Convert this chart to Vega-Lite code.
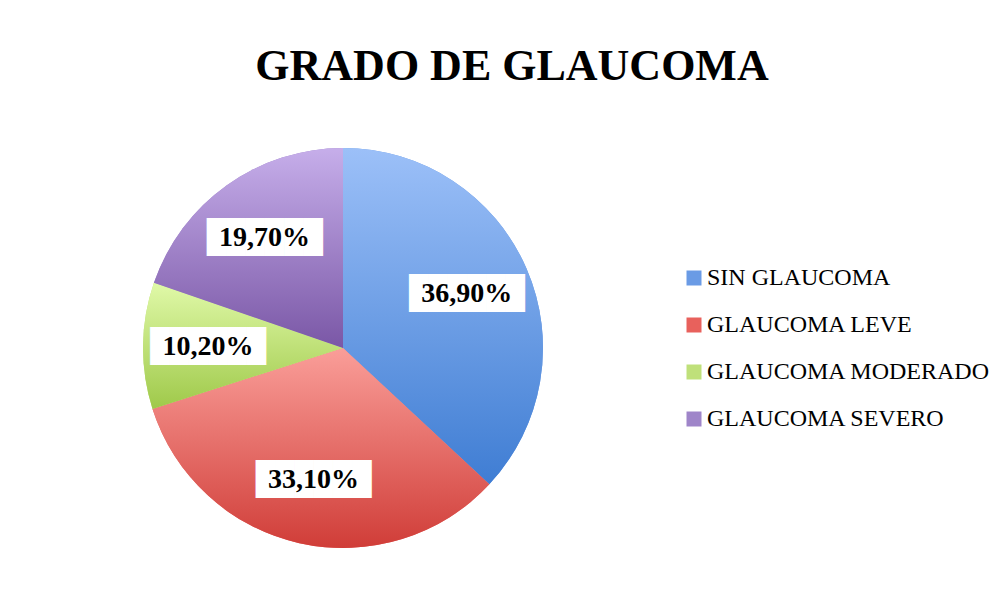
{
  "$schema": "https://vega.github.io/schema/vega-lite/v6.json",
  "autosize": {"type": "none"},
  "width": 400,
  "height": 400,
  "padding": {"left": 143, "top": 148, "right": 460, "bottom": 57},
  "background": "white",
  "title": {
    "text": "GRADO DE GLAUCOMA",
    "font": "Liberation Serif",
    "fontSize": 44,
    "fontWeight": "bold",
    "color": "#000000",
    "anchor": "middle",
    "dx": 169,
    "baseline": "alphabetic",
    "offset": 24
  },
  "data": {
    "values": [
      {"cat": "SIN GLAUCOMA", "pct": 36.9, "label": "36,90%", "orden": 1},
      {"cat": "GLAUCOMA LEVE", "pct": 33.1, "label": "33,10%", "orden": 2},
      {"cat": "GLAUCOMA MODERADO", "pct": 10.2, "label": "10,20%", "orden": 3},
      {"cat": "GLAUCOMA SEVERO", "pct": 19.7, "label": "19,70%", "orden": 4}
    ]
  },
  "encoding": {
    "theta": {"field": "pct", "type": "quantitative", "stack": true},
    "order": {"field": "orden", "type": "quantitative"}
  },
  "layer": [
    {
      "mark": {"type": "arc", "outerRadius": 200, "strokeWidth": 0},
      "encoding": {
        "color": {
          "field": "cat",
          "type": "nominal",
          "scale": {
            "domain": ["SIN GLAUCOMA", "GLAUCOMA LEVE", "GLAUCOMA MODERADO", "GLAUCOMA SEVERO"],
            "range": ["#6A9BE5", "#E8615C", "#BFE07A", "#9F85C9"]
          },
          "legend": {
            "title": null,
            "orient": "none",
            "legendX": 539,
            "legendY": 118,
            "padding": 0,
            "symbolType": "square",
            "symbolSize": 225,
            "symbolStrokeWidth": 0,
            "labelFont": "Liberation Serif",
            "labelFontSize": 24,
            "labelColor": "#000000",
            "labelOffset": 1,
            "rowPadding": 23,
            "labelLimit": 400
          }
        }
      }
    },
    {
      "mark": {"type": "arc", "outerRadius": 200, "strokeWidth": 0},
      "encoding": {
        "fill": {
          "condition": [
            {"test": "datum.cat === 'SIN GLAUCOMA'", "value": {"gradient": "linear", "x1": 0, "y1": 0, "x2": 0, "y2": 1, "stops": [{"offset": 0, "color": "#9CC0F8"}, {"offset": 1, "color": "#3F7DD3"}]}},
            {"test": "datum.cat === 'GLAUCOMA LEVE'", "value": {"gradient": "linear", "x1": 0, "y1": 0, "x2": 0, "y2": 1, "stops": [{"offset": 0, "color": "#FA9E99"}, {"offset": 1, "color": "#D03D38"}]}},
            {"test": "datum.cat === 'GLAUCOMA MODERADO'", "value": {"gradient": "linear", "x1": 0, "y1": 0, "x2": 0, "y2": 1, "stops": [{"offset": 0, "color": "#E0F9A8"}, {"offset": 1, "color": "#9FC94A"}]}}
          ],
          "value": {"gradient": "linear", "x1": 0, "y1": 0, "x2": 0, "y2": 1, "stops": [{"offset": 0, "color": "#C6AEEA"}, {"offset": 1, "color": "#7A57A6"}]}
        }
      }
    },
    {
      "mark": {"type": "text", "radius": 135, "font": "DejaVu Sans Mono", "fontSize": 32, "color": "#FFFFFF", "baseline": "middle", "align": "center"},
      "encoding": {"text": {"value": "██████"}}
    },
    {
      "mark": {"type": "text", "radius": 135, "font": "Liberation Serif", "fontSize": 28, "fontWeight": "bold", "color": "#000000", "baseline": "middle", "align": "center"},
      "encoding": {"text": {"field": "label", "type": "nominal"}}
    }
  ],
  "config": {"view": {"stroke": null}}
}
